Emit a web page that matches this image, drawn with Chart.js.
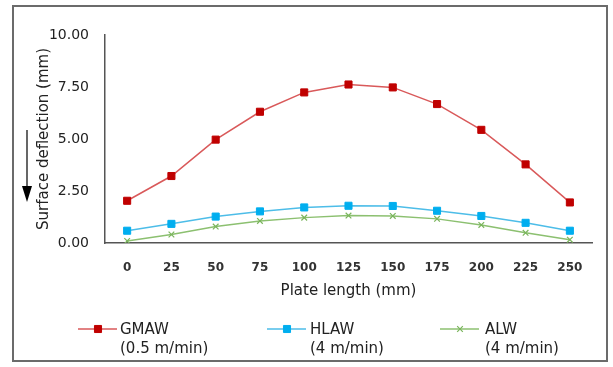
<!DOCTYPE html>
<html>
<head>
<meta charset="utf-8">
<script src="https://cdn.jsdelivr.net/npm/chart.js@4.4.1/dist/chart.umd.min.js"></script>
<style>
  html, body { margin: 0; padding: 0; background: #fff; }
  .wrap { position: relative; width: 613px; height: 367px; }
  .frame { position: absolute; left: 12px; top: 5px; width: 596px; height: 357px; border: 2px solid #6b6b6b; box-sizing: border-box; pointer-events: none; }
  canvas { position: absolute; left: 0; top: 0; }
</style>
</head>
<body>
<div class="wrap">
  <canvas id="chart" width="613" height="367"></canvas>
  <div class="frame"></div>
</div>
<script>
// plate positions (mm)
const plateLength = ['0', '25', '50', '75', '100', '125', '150', '175', '200', '225', '250'];

// surface deflection (mm)
const gmaw = [2.03, 3.22, 4.97, 6.31, 7.24, 7.62, 7.48, 6.68, 5.44, 3.78, 1.95];
const hlaw = [0.59, 0.92, 1.27, 1.52, 1.71, 1.79, 1.78, 1.55, 1.30, 0.97, 0.59];
const alw = [0.10, 0.41, 0.79, 1.06, 1.22, 1.32, 1.30, 1.16, 0.87, 0.49, 0.16];

const yTicks = [0, 2.5, 5, 7.5, 10];

const seriesNames = [['GMAW', '(0.5 m/min)'], ['HLAW', '(4 m/min)'], ['ALW', '(4 m/min)']];

const font = 'DejaVu Sans';

// arrow next to the y title + two-line legend below the axis
const extras = {
  id: 'extras',
  afterDraw(chart) {
    const c = chart.ctx;
    c.save();
    // down arrow
    c.strokeStyle = '#000';
    c.fillStyle = '#000';
    c.lineWidth = 1.2;
    c.beginPath();
    c.moveTo(27, 130);
    c.lineTo(27, 190);
    c.stroke();
    c.beginPath();
    c.moveTo(22, 186);
    c.lineTo(32, 186);
    c.lineTo(27, 202);
    c.closePath();
    c.fill();

    // legend
    const spots = [78, 267, 440];
    const textX = [120, 310, 485];
    chart.data.datasets.forEach(function (ds, i) {
      const x0 = spots[i];
      const y = 329;
      c.strokeStyle = ds.borderColor;
      c.lineWidth = 1.5;
      c.beginPath();
      c.moveTo(x0, y);
      c.lineTo(x0 + 39, y);
      c.stroke();
      c.lineWidth = ds.pointBorderWidth || 1;
      c.strokeStyle = ds.pointBorderColor;
      c.fillStyle = ds.pointBackgroundColor;
      Chart.helpers.drawPoint(c, {
        pointStyle: ds.pointStyle,
        radius: ds.pointRadius,
        rotation: 0,
        borderWidth: ds.pointBorderWidth || 1
      }, x0 + 20, y);
      c.fillStyle = '#222';
      c.font = '15px "' + font + '"';
      c.textBaseline = 'middle';
      c.textAlign = 'left';
      c.fillText(seriesNames[i][0], textX[i], 330);
      c.fillText(seriesNames[i][1], textX[i], 349);
    });
    c.restore();
  }
};

const ctx = document.getElementById('chart').getContext('2d');
const chart = new Chart(ctx, {
  type: 'line',
  data: {
    labels: plateLength,
    datasets: [
      {
        label: 'GMAW (0.5 m/min)',
        data: gmaw,
        borderColor: '#d9595a',
        borderWidth: 1.5,
        pointStyle: 'rect',
        pointRadius: 5,
        pointBackgroundColor: '#c00000',
        pointBorderColor: '#c00000',
        pointBorderWidth: 1,
        tension: 0
      },
      {
        label: 'HLAW (4 m/min)',
        data: hlaw,
        borderColor: '#4dbde8',
        borderWidth: 1.5,
        pointStyle: 'rect',
        pointRadius: 5,
        pointBackgroundColor: '#00aeef',
        pointBorderColor: '#00aeef',
        pointBorderWidth: 1,
        tension: 0
      },
      {
        label: 'ALW (4 m/min)',
        data: alw,
        borderColor: '#8cc070',
        borderWidth: 1.5,
        pointStyle: 'crossRot',
        pointRadius: 4,
        pointBackgroundColor: '#7ab55c',
        pointBorderColor: '#7ab55c',
        pointBorderWidth: 1.2,
        tension: 0
      }
    ]
  },
  options: {
    responsive: false,
    animation: false,
    events: [],
    layout: { padding: { left: 0, right: 21, top: 35, bottom: 0 } },
    plugins: {
      legend: { display: false },
      tooltip: { enabled: false }
    },
    scales: {
      x: {
        offset: true,
        grid: { display: false, drawTicks: false },
        border: { display: true, color: '#555', width: 1.5 },
        ticks: { color: '#333', padding: 18, font: { family: font, size: 12, weight: 'bold' } },
        title: {
          display: true,
          text: 'Plate length (mm)',
          color: '#222',
          font: { family: font, size: 15 },
          padding: { top: 0, bottom: 67 }
        },
        afterFit(scale) { scale.height = 124; }
      },
      y: {
        min: 0,
        max: 10,
        afterBuildTicks(scale) { scale.ticks = yTicks.map(v => ({ value: v })); },
        grid: { display: false, drawTicks: false },
        border: { display: true, color: '#555', width: 1.5 },
        ticks: {
          color: '#222',
          padding: 16,
          font: { family: font, size: 14 },
          callback: v => v.toFixed(2)
        },
        title: {
          display: true,
          text: 'Surface deflection (mm)',
          color: '#222',
          font: { family: font, size: 15 },
          padding: { top: 35, bottom: 0 }
        },
        afterFit(scale) { scale.width = 105; }
      }
    }
  },
  plugins: [extras]
});
</script>
</body>
</html>
